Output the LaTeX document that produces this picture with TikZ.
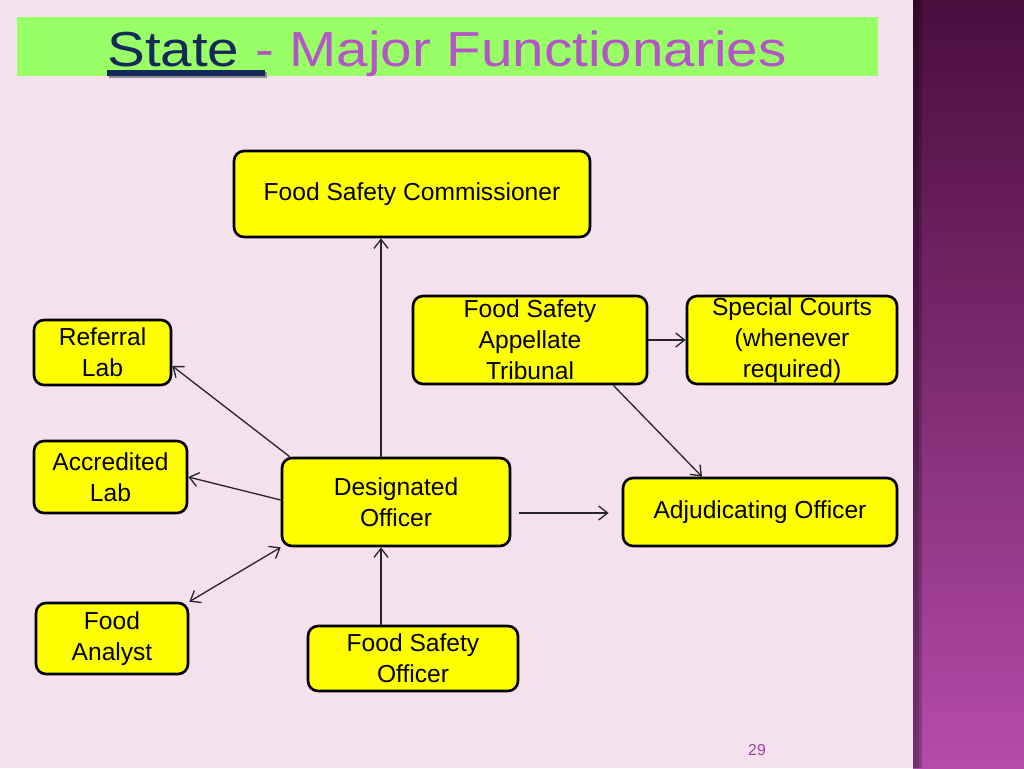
\documentclass[tikz,border=0pt]{standalone}
\usepackage{fontspec}
\setmainfont{Liberation Sans}
\usetikzlibrary{arrows.meta,calc}
\definecolor{bgpink}{HTML}{F5E1EE}
\definecolor{band}{HTML}{99FF66}
\definecolor{navy}{HTML}{14285A}
\definecolor{ttlpurple}{HTML}{B455C8}
\definecolor{barTop}{HTML}{4A0D3E}
\definecolor{barMid}{HTML}{7E2C72}
\definecolor{barBot}{HTML}{B54CAB}
\definecolor{pnum}{HTML}{A040A0}
\definecolor{boxyellow}{HTML}{FFFF00}
\begin{document}
\begin{tikzpicture}[x=0.02cm,y=-0.02cm,
  box/.style={draw=black,line width=1.5pt,fill=boxyellow,rounded corners=0.2cm,
    inner sep=0pt,align=center,font=\fontsize{14}{17.6}\selectfont},
  conn/.style={line width=0.75pt,draw=black!85},
  >={Straight Barb[length=0.18cm,width=0.28cm]}]
% background
\useasboundingbox (0,0) rectangle (1024,768);
\fill[bgpink] (0,0) rectangle (1024,768);
% right bar
\shade[top color=barTop,bottom color=barBot,middle color=barMid] (913,0) rectangle (1024,768);
\fill[black,opacity=0.35] (913,0) rectangle (919,768);
\fill[black,opacity=0.2] (919,0) rectangle (922,768);
% title band
\fill[band] (17,17) rectangle (878,76);
\node[anchor=base west,inner sep=0pt,font=\fontsize{28}{30}\selectfont] (title) at (107,66)
  {\scalebox{1.15}[1]{\textcolor{navy}{State} \textcolor{ttlpurple}{- Major Functionaries}}};
\fill[black!45] (109,72) rectangle (267,78);
\fill[navy] (107,70) rectangle (265,76);
% boxes
\node[box,minimum width=7.12cm,minimum height=1.72cm] (fsc) at (412,194) {Food Safety Commissioner};
\node[box,minimum width=2.74cm,minimum height=1.30cm] (ref) at (102.5,352.5) {Referral\\Lab};
\node[box,minimum width=3.06cm,minimum height=1.44cm] (acc) at (110.5,477) {Accredited\\Lab};
\node[box,minimum width=3.04cm,minimum height=1.42cm] (fa) at (112,638.5) {Food\\Analyst};
\node[box,minimum width=4.56cm,minimum height=1.76cm] (do) at (396,502) {Designated\\Officer};
\node[box,minimum width=4.20cm,minimum height=1.30cm] (fso) at (413,658.5) {Food Safety\\Officer};
\node[box,minimum width=4.68cm,minimum height=1.76cm] (fsat) at (530,340) {Food Safety\\Appellate\\Tribunal};
\node[box,minimum width=4.20cm,minimum height=1.76cm] (sc) at (792,340) {Special Courts\\(whenever\\required)};
\node[box,minimum width=5.48cm,minimum height=1.36cm] (ao) at (760,512) {Adjudicating Officer};
% connectors
\draw[conn,->] ([xshift=-0.3cm]do.north) -- ([xshift=-0.3cm]do.north |- fsc.south);
\draw[conn,->] ([xshift=0.18cm]do.north west) -- ([yshift=-0.27cm]ref.east);
\draw[conn,->] ([yshift=0.04cm]do.west) -- (acc.east);
\draw[conn,<->] (do.south west) -- (fa.north east);
\draw[conn,->] ([xshift=-0.64cm]fso.north) -- ([xshift=-0.64cm]fso.north |- do.south);
\draw[conn,->,shorten <=0.16cm,shorten >=0.26cm] ([yshift=-0.22cm]do.east) -- ([yshift=-0.22cm]do.east -| ao.west);
\draw[conn,->] (fsat.east) -- (sc.west);
\draw[conn,->] ([xshift=-0.7cm]fsat.south east) -- ([xshift=-1.16cm]ao.north);
% page number
\node[font=\fontsize{9}{10}\selectfont,text=pnum] (pg) at (757,750) {29};
\end{tikzpicture}
\end{document}
